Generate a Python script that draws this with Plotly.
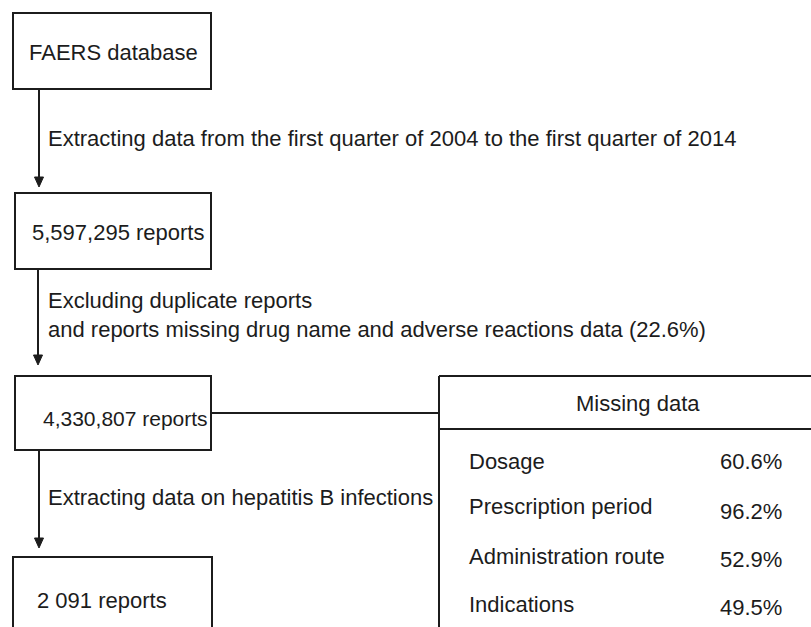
import plotly.graph_objects as go

# ---- data ----
box_texts = ["FAERS database", "5,597,295 reports", "4,330,807 reports", "2 091 reports"]
step_texts = [
    "Extracting data from the first quarter of 2004 to the first quarter of 2014",
    "Excluding duplicate reports<br>and reports missing drug name and adverse reactions data (22.6%)",
    "Extracting data on hepatitis B infections",
]
table_title = "Missing data"
missing_items = ["Dosage", "Prescription period", "Administration route", "Indications"]
missing_pct = ["60.6%", "96.2%", "52.9%", "49.5%"]

# ---- layout geometry (page pixel coordinates) ----
W, H = 811, 627
boxes = [(13, 13, 211, 89), (15, 193, 211, 269), (15, 376, 211, 450), (13, 557, 212, 650)]
box_text_pos = [(27, 52), (30, 232), (41, 418), (35, 600)]
box_font = [22, 22, 21, 22]
arrows = [(39, 89, 187), (38, 269, 365), (39, 450, 548)]
step_pos = [(46, 138), (46, 315), (46, 497)]
label_y = [461, 506, 556, 604]
value_y = [461, 511, 559, 607]

FONT = "Liberation Sans, Arial, Helvetica, sans-serif"
FS = 22
INK = "#1c1c1c"
LW = 2

shapes = []
annotations = []

for (x0, y0, x1, y1) in boxes:
    shapes.append(dict(type="rect", x0=x0, y0=y0, x1=x1, y1=y1, xref="x", yref="y",
                       line=dict(color=INK, width=LW), fillcolor="rgba(0,0,0,0)"))
for txt, (tx, ty), fs in zip(box_texts, box_text_pos, box_font):
    annotations.append(dict(x=tx, y=ty, text=txt, showarrow=False, xanchor="left", yanchor="middle",
                            font=dict(family=FONT, size=fs, color=INK)))

for (ax, ys, ye) in arrows:
    shapes.append(dict(type="line", x0=ax, y0=ys, x1=ax, y1=ye - 8, line=dict(color=INK, width=LW)))
    shapes.append(dict(type="path", path=f"M {ax-4.5},{ye-10} L {ax+4.5},{ye-10} L {ax},{ye} Z",
                       fillcolor=INK, line=dict(color=INK, width=1)))

for txt, (tx, ty) in zip(step_texts, step_pos):
    annotations.append(dict(x=tx, y=ty, text=txt, showarrow=False, xanchor="left", yanchor="middle",
                            align="left", font=dict(family=FONT, size=FS, color=INK)))

# connector to table
shapes.append(dict(type="line", x0=211, y0=413, x1=439, y1=413, line=dict(color=INK, width=LW)))
# table
shapes.append(dict(type="line", x0=439, y0=376, x1=439, y1=650, line=dict(color=INK, width=LW)))
shapes.append(dict(type="line", x0=439, y0=376, x1=830, y1=376, line=dict(color=INK, width=LW)))
shapes.append(dict(type="line", x0=439, y0=429, x1=830, y1=429, line=dict(color=INK, width=LW)))

annotations.append(dict(x=638, y=403, text=table_title, showarrow=False, xanchor="center", yanchor="middle",
                        font=dict(family=FONT, size=FS, color=INK)))
for item, pct, ly, vy in zip(missing_items, missing_pct, label_y, value_y):
    annotations.append(dict(x=467, y=ly, text=item, showarrow=False, xanchor="left", yanchor="middle",
                            font=dict(family=FONT, size=FS, color=INK)))
    annotations.append(dict(x=718, y=vy, text=pct, showarrow=False, xanchor="left", yanchor="middle",
                            font=dict(family=FONT, size=FS, color=INK)))

fig = go.Figure()
fig.update_layout(
    width=W, height=H, margin=dict(l=0, r=0, t=0, b=0),
    paper_bgcolor="white", plot_bgcolor="white",
    xaxis=dict(range=[0, W], visible=False, fixedrange=True),
    yaxis=dict(range=[H, 0], visible=False, fixedrange=True),
    shapes=shapes, annotations=annotations, showlegend=False,
)
fig.write_html(
    "out.html",
    config={"displayModeBar": False, "staticPlot": True},
    post_script="document.body.style.margin='0';document.body.style.overflow='hidden';",
)
